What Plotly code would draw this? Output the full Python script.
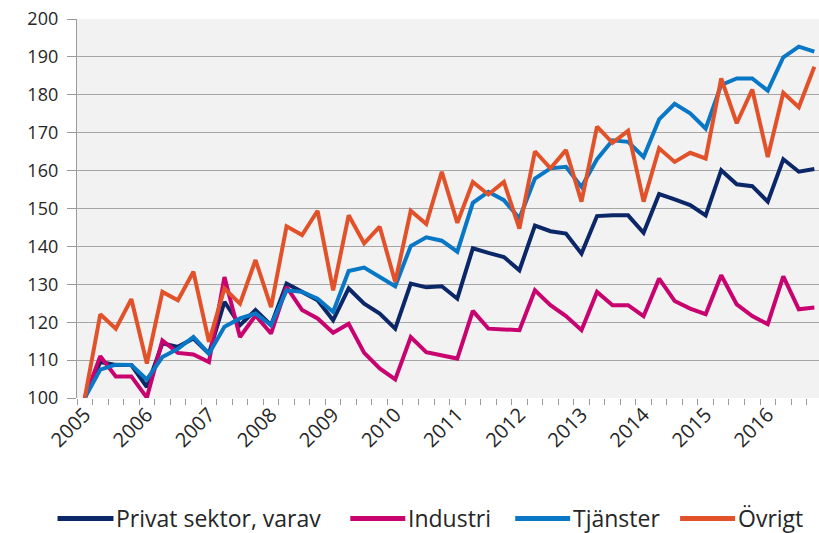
import plotly.graph_objects as go

quarters = list(range(48))
year_labels = ["2005", "2006", "2007", "2008", "2009", "2010", "2011", "2012", "2013", "2014", "2015", "2016"]
year_positions = [0, 4, 8, 12, 16, 20, 24, 28, 32, 36, 40, 44]

privat = [100, 109.5, 108.7, 108.7, 102.9, 114.4, 113.5, 115.7,
          111.7, 125.4, 119.2, 123.2, 119.2, 130.2, 128, 125.8,
          120.5, 128.9, 124.9, 122.3, 118.3, 130.2, 129.2, 129.5,
          126.2, 139.5, 138.3, 137.2, 133.7, 145.5, 144, 143.4,
          138.1, 148, 148.2, 148.2, 143.6, 153.8, 152.4, 150.9,
          148.2, 160.1, 156.4, 155.9, 151.8, 163, 159.7, 160.4]

industri = [100, 111, 105.7, 105.7, 100.1, 115.2, 111.9, 111.5,
            109.5, 131.9, 116.1, 121.8, 117, 129.3, 123.2, 121,
            117.2, 119.6, 111.9, 107.8, 104.9, 116.1, 112.1, 111.3,
            110.4, 123, 118.3, 118.1, 117.9, 128.4, 124.5, 121.6,
            117.9, 128, 124.5, 124.5, 121.6, 131.5, 125.6, 123.6,
            122.1, 132.4, 124.7, 121.6, 119.5, 132.1, 123.4, 123.9]

tjanster = [100, 107.5, 108.8, 108.7, 104.9, 110.8, 113, 116.1,
            111.7, 118.8, 121, 122.3, 119.2, 128.4, 128, 126.2,
            122.7, 133.5, 134.4, 132.1, 129.5, 140.1, 142.4, 141.5,
            138.6, 151.5, 154.4, 152.2, 147.4, 157.9, 160.6, 161,
            155.7, 163, 168, 167.6, 163.6, 173.5, 177.6, 175.1,
            171.1, 182.6, 184.3, 184.3, 181.1, 189.9, 192.7, 191.4]

ovrigt = [100, 122.1, 118.3, 126.1, 109.1, 128, 125.8, 133.3,
          114.8, 128.9, 124.9, 136.4, 124, 145.3, 143, 149.4,
          128.4, 148.2, 140.8, 145.2, 130.6, 149.4, 145.9, 159.7,
          146.2, 157, 153.7, 157, 144.7, 165.1, 160.6, 165.4,
          151.8, 171.6, 167.3, 170.5, 151.8, 165.9, 162.3, 164.7,
          163.2, 184.3, 172.5, 181.4, 163.6, 180.5, 176.7, 187.4]

series_names = ["Privat sektor, varav", "Industri", "Tjänster", "Övrigt"]
series_values = [privat, industri, tjanster, ovrigt]
series_colors = ["#0b2767", "#c8036f", "#0877c6", "#e2522a"]

FONT = "Open Sans, Liberation Sans, sans-serif"
TXT = "#262626"

W, H = 819, 533
ML, MT = 76.5, 19
PB = 397.7                # plot bottom (px)
MR, MB = 0, H - PB
PW = W - ML - MR
PH = PB - MT

def px_to_paper_x(px):
    return (px - ML) / PW

def px_to_paper_y(py):
    return (PB - py) / PH

fig = go.Figure()
for name, vals, color in zip(series_names, series_values, series_colors):
    fig.add_trace(go.Scatter(
        x=quarters, y=vals, name=name, mode="lines",
        line=dict(color=color, width=4), cliponaxis=False,
        showlegend=False,
    ))

# manual legend (line sample + label), positioned like the original
legend_line_px = [(57, 113), (350, 405), (515, 570), (680, 735)]
legend_y_px = 518
shapes = []
annotations = []
for (x0, x1), name, color in zip(legend_line_px, series_names, series_colors):
    ly = px_to_paper_y(legend_y_px)
    shapes.append(dict(type="line", xref="paper", yref="paper",
                       x0=px_to_paper_x(x0), x1=px_to_paper_x(x1), y0=ly, y1=ly,
                       line=dict(color=color, width=5)))
    annotations.append(dict(xref="paper", yref="paper",
                            x=px_to_paper_x(x1 + 1), y=ly,
                            xanchor="left", yanchor="middle",
                            text=name, showarrow=False,
                            font=dict(family=FONT, size=23, color=TXT)))

fig.update_layout(
    width=W, height=H,
    margin=dict(l=ML, r=MR, t=MT, b=MB, autoexpand=False, pad=0),
    paper_bgcolor="white",
    plot_bgcolor="#f2f2f2",
    font=dict(family=FONT, size=18, color=TXT),
    showlegend=False,
    shapes=shapes,
    annotations=annotations,
)

fig.update_xaxes(
    range=[-0.5, 47.3],
    tickmode="array", tickvals=year_positions, ticktext=year_labels,
    tickangle=-45, ticks="", showgrid=False, zeroline=False,
    showline=False, automargin=False,
    tickfont=dict(family=FONT, size=20, color=TXT),
    minor=dict(tick0=-0.5, dtick=1, ticks="outside", ticklen=6,
               tickcolor="#9a9a9a", tickwidth=1.3, showgrid=False),
)

fig.update_yaxes(
    range=[100, 200], dtick=10, tick0=100,
    showgrid=True, gridcolor="#a6a6a6", gridwidth=1.3,
    zeroline=False, automargin=False,
    showline=True, linecolor="#9a9a9a", linewidth=1.3,
    ticks="outside", ticklen=9, tickcolor="#9a9a9a", tickwidth=1.3,
    ticklabelstandoff=5, ticklabeloverflow="allow",
    tickfont=dict(family=FONT, size=18, color=TXT),
)

# remove the default 8px page margin so the figure fills the window exactly
fig.write_html(
    "out.html",
    config={"displayModeBar": False},
    post_script="document.body.style.margin='0';document.body.style.overflow='hidden';",
)
